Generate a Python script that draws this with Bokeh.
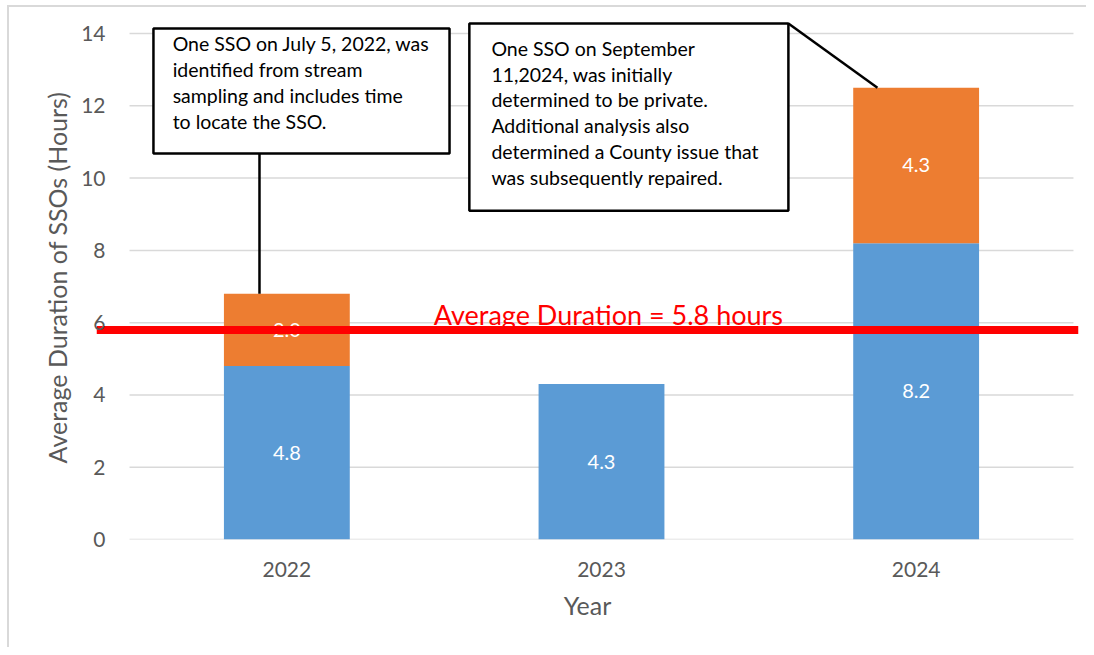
from bokeh.plotting import figure
from bokeh.models import FixedTicker, Range1d
from bokeh.core.properties import value
from bokeh.embed import file_html
from bokeh.resources import INLINE

# ---- data ----
years = ["2022", "2023", "2024"]
base_hours = [4.8, 4.3, 8.2]
extra_hours = [2.0, 0.0, 4.3]
average_hours = 5.8
y_ticks = [0, 2, 4, 6, 8, 10, 12, 14]
avg_label = "Average Duration = 5.8 hours"
note_2022 = ["One SSO on July 5, 2022, was",
             "identified from stream",
             "sampling and includes time",
             "to locate the SSO."]
note_2024 = ["One SSO on September",
             "11,2024, was initially",
             "determined to be private.",
             "Additional analysis also",
             "determined a County issue that",
             "was subsequently repaired."]

# ---- style ----
FONT = "Lato"
BLUE = "#5B9BD5"
ORANGE = "#ED7D31"
GRID = "#D9D9D9"
AXIS_TXT = "#595959"
RED = "#FF0000"

W, H = 1086, 647
x_start, x_end = -0.105, 3.016
y_start, y_end = 0, 14.5
PX_PER_Y = 524 / (y_end - y_start)   # frame height / range

p = figure(width=W, height=H,
           x_range=Range1d(x_start, x_end), y_range=Range1d(y_start, y_end),
           output_backend="svg", toolbar_location=None,
           min_border_left=96, min_border_right=8,
           min_border_top=15, min_border_bottom=108)
p.outline_line_color = None
p.background_fill_color = "white"
p.border_fill_color = None
p.xgrid.visible = False
p.ygrid.visible = False
p.styles = {"background-color": "white",
            "box-shadow": "inset 7px 5px 0 0 white, inset 9px 7px 0 0 #d9d9d9"}

n = len(years)
xs = [i + 0.5 for i in range(n)]
tops = [b + e for b, e in zip(base_hours, extra_hours)]

# gridlines
p.segment(x0=[0] * len(y_ticks), x1=[n] * len(y_ticks), y0=y_ticks, y1=y_ticks,
          line_color=GRID, line_width=1.5)

# bars
p.vbar(x=xs, bottom=0, top=base_hours, width=0.4, fill_color=BLUE, line_color=None)
ox = [x for x, e in zip(xs, extra_hours) if e > 0]
ob = [b for b, e in zip(base_hours, extra_hours) if e > 0]
ot = [t for t, e in zip(tops, extra_hours) if e > 0]
p.vbar(x=ox, bottom=ob, top=ot, width=0.4, fill_color=ORANGE, line_color=None)

# bar labels
p.text(x=xs, y=[b / 2 for b in base_hours], text=[f"{b:.1f}" for b in base_hours],
       text_align="center", text_baseline="middle", text_color="white",
       text_font=value(FONT), text_font_size="20px")
p.text(x=ox, y=[(b + t) / 2 for b, t in zip(ob, ot)],
       text=[f"{e:.1f}" for e in extra_hours if e > 0],
       text_align="center", text_baseline="middle", text_color="white",
       text_font=value(FONT), text_font_size="20px")

# average label + line
p.text(x=[1.522], y=[average_hours + 0.42], text=[avg_label], text_align="center",
       text_baseline="alphabetic", text_color=RED, text_font=value(FONT),
       text_font_size="27px")
p.line(x=[x_start, x_end], y=[average_hours, average_hours], line_color=RED, line_width=8)

# callout 2022
p.line(x=[0.413, 0.413], y=[10.68, tops[0]], line_color="black", line_width=2.5)
p.quad(left=[0.076], right=[1.017], top=[14.14], bottom=[10.68],
       fill_color="white", line_color="black", line_width=2.5)
dy = 25.9 / PX_PER_Y
p.text(x=[0.137] * len(note_2022), y=[13.72 - i * dy for i in range(len(note_2022))],
       text=note_2022, text_align="left", text_baseline="alphabetic",
       text_color="black", text_font=value(FONT), text_font_size="19.5px")

# callout 2024
p.line(x=[2.094, 2.377], y=[14.28, tops[2]], line_color="black", line_width=2.5)
p.quad(left=[1.080], right=[2.094], top=[14.28], bottom=[9.10],
       fill_color="white", line_color="black", line_width=2.5)
dy2 = 25.7 / PX_PER_Y
p.text(x=[1.150] * len(note_2024), y=[13.585 - i * dy2 for i in range(len(note_2024))],
       text=note_2024, text_align="left", text_baseline="alphabetic",
       text_color="black", text_font=value(FONT), text_font_size="19.5px")

# axes
p.xaxis.ticker = FixedTicker(ticks=xs)
p.xaxis.major_label_overrides = {x: y for x, y in zip(xs, years)}
p.yaxis.ticker = FixedTicker(ticks=y_ticks)
for ax in (p.xaxis[0], p.yaxis[0]):
    ax.axis_line_color = None
    ax.major_tick_line_color = None
    ax.minor_tick_line_color = None
    ax.major_tick_in = 0
    ax.major_tick_out = 0
    ax.minor_tick_in = 0
    ax.minor_tick_out = 0
    ax.major_label_text_font = FONT
    ax.major_label_text_font_size = "21px"
    ax.major_label_text_color = AXIS_TXT
    ax.axis_label_text_font = FONT
    ax.axis_label_text_font_size = "25px"
    ax.axis_label_text_font_style = "normal"
    ax.axis_label_text_color = AXIS_TXT

p.xaxis.axis_label = "Year"
p.xaxis.major_label_standoff = 22
p.xaxis.axis_label_standoff = 10
p.yaxis.axis_label = "Average Duration of SSOs (Hours)"
p.yaxis.major_label_standoff = -9
p.yaxis.axis_label_standoff = 6

open("out.html", "w").write(file_html(p, INLINE))
